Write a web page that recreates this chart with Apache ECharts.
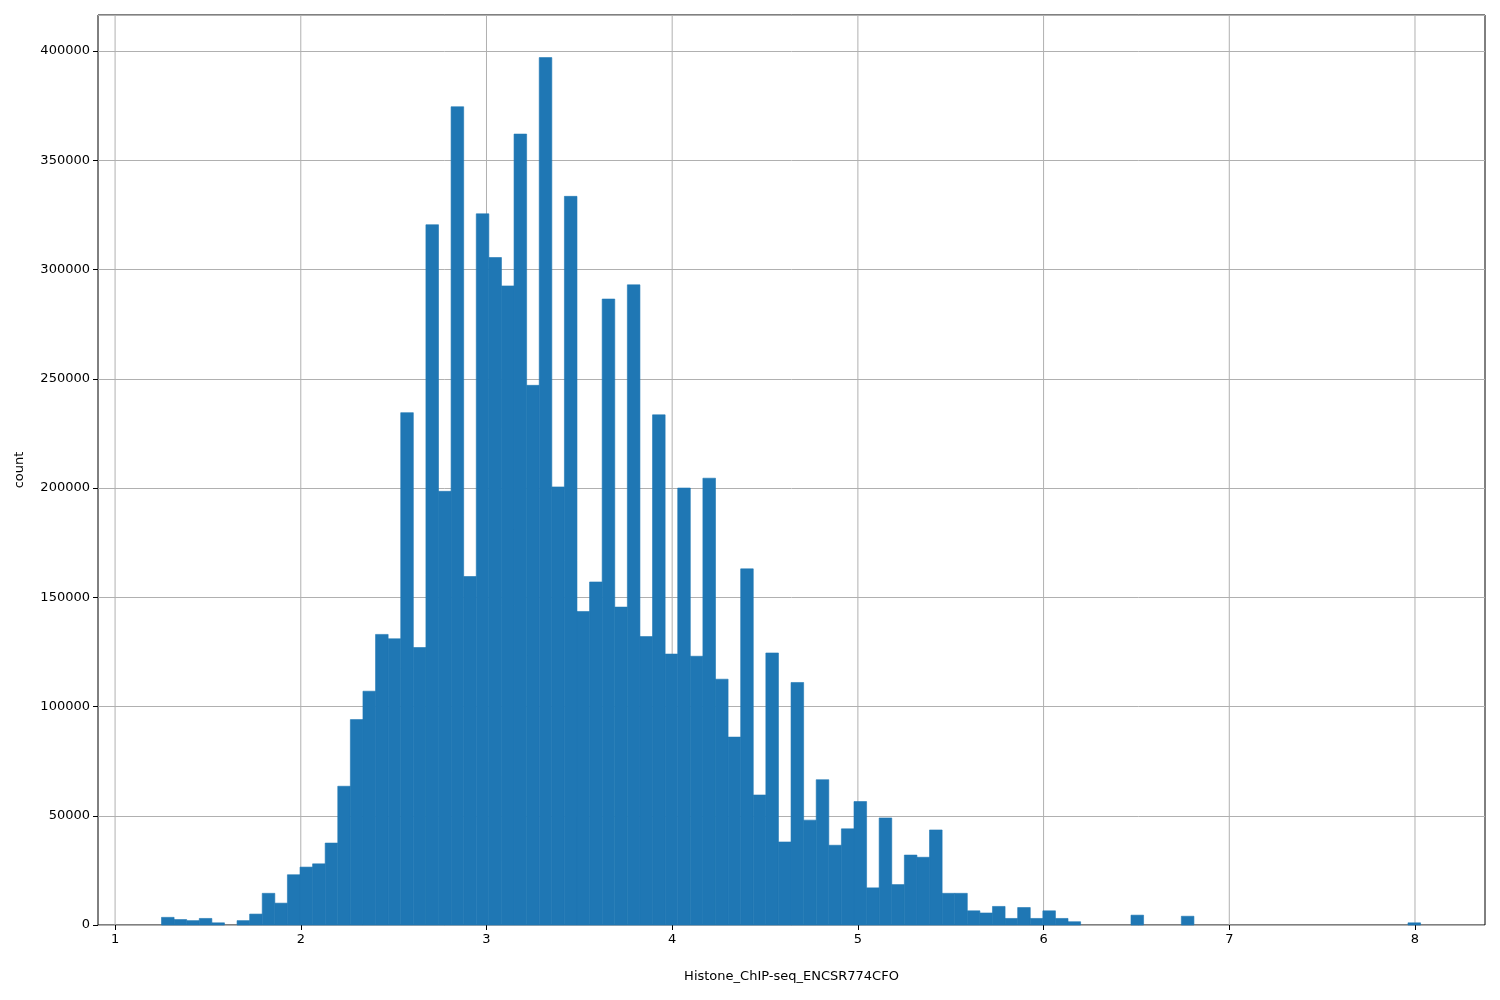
<!DOCTYPE html>
<html>
<head>
<meta charset="utf-8">
<script src="https://cdn.jsdelivr.net/npm/echarts@6/dist/echarts.min.js"></script>
<style>html,body{margin:0;padding:0;background:#fff}#main{width:1500px;height:1000px}</style>
</head>
<body>
<div id="main"></div>
<script>
// histogram: 100 bins between the min and max value
var binMin = 1.25;
var binMax = 8.03;
var counts = [
    3500, 2500, 2000, 3000, 1000, 0, 2000, 5000, 14500, 10000,
    23000, 26500, 28000, 37500, 63500, 94000, 107000, 133000, 131000, 234500,
    127000, 320500, 198500, 374500, 159500, 325500, 305500, 292500, 362000, 247000,
    397000, 200500, 333500, 143500, 157000, 286500, 145500, 293000, 132000, 233500,
    124000, 200000, 123000, 204500, 112500, 86000, 163000, 59500, 124500, 38000,
    111000, 48000, 66500, 36500, 44000, 56500, 17000, 49000, 18500, 32000,
    31000, 43500, 14500, 14500, 6500, 5500, 8500, 3000, 8000, 3000,
    6500, 3000, 1500, 0, 0, 0, 0, 4500, 0, 0,
    0, 4000, 0, 0, 0, 0, 0, 0, 0, 0,
    0, 0, 0, 0, 0, 0, 0, 0, 0, 1000
];
var xTicks = [1, 2, 3, 4, 5, 6, 7, 8];
var xLabel = 'Histone_ChIP-seq_ENCSR774CFO';
var yLabel = 'count';

var binWidth = (binMax - binMin) / counts.length;
var bins = counts.map(function (c, i) {
    return [binMin + i * binWidth, binMin + (i + 1) * binWidth, c];
});

var chart = echarts.init(document.getElementById('main'));
var lineCol = '#b0b0b0';
var font = { fontFamily: 'DejaVu Sans', fontSize: 13, color: '#000' };
chart.setOption({
    animation: false,
    grid: { left: 98, right: 15, top: 15, bottom: 75, show: true, borderColor: '#000', borderWidth: 1 },
    xAxis: {
        type: 'value', min: 0.908, max: 8.377,
        name: xLabel, nameLocation: 'middle', nameGap: 45, nameTextStyle: font,
        axisLine: { show: false },
        axisTick: { show: true, length: 5, customValues: xTicks, lineStyle: { color: '#000' } },
        axisLabel: Object.assign({ margin: 8, customValues: xTicks }, font),
        splitLine: { show: false }
    },
    yAxis: {
        type: 'value', min: 0, max: 416500, interval: 50000,
        name: yLabel, nameLocation: 'middle', nameGap: 72, nameTextStyle: font,
        axisLine: { show: false },
        axisTick: { show: true, length: 5, lineStyle: { color: '#000' } },
        axisLabel: Object.assign({ margin: 8, showMaxLabel: false, formatter: function (v) { return String(v); } }, font),
        splitLine: { show: true, lineStyle: { color: lineCol, width: 1 } }
    },
    series: [{
        type: 'custom',
        data: bins,
        encode: { x: [0, 1], y: 2 },
        renderItem: function (params, api) {
            if (!api.value(2)) return null;
            var p0 = api.coord([api.value(0), api.value(2)]);
            var p1 = api.coord([api.value(1), 0]);
            return {
                type: 'rect',
                shape: { x: p0[0], y: p0[1], width: p1[0] - p0[0], height: p1[1] - p0[1] },
                style: { fill: '#1f77b4', stroke: '#1f77b4', lineWidth: 0.6 }
            };
        }
    }, {
        // vertical grid lines at the x ticks
        type: 'custom',
        data: xTicks,
        encode: { x: 0 },
        silent: true,
        z: 1,
        renderItem: function (params, api) {
            var top = api.coord([api.value(0), 416500]);
            var bot = api.coord([api.value(0), 0]);
            return {
                type: 'line',
                shape: { x1: top[0], y1: top[1], x2: bot[0], y2: bot[1] },
                style: { stroke: lineCol, lineWidth: 1 }
            };
        }
    }]
});
</script>
</body>
</html>
